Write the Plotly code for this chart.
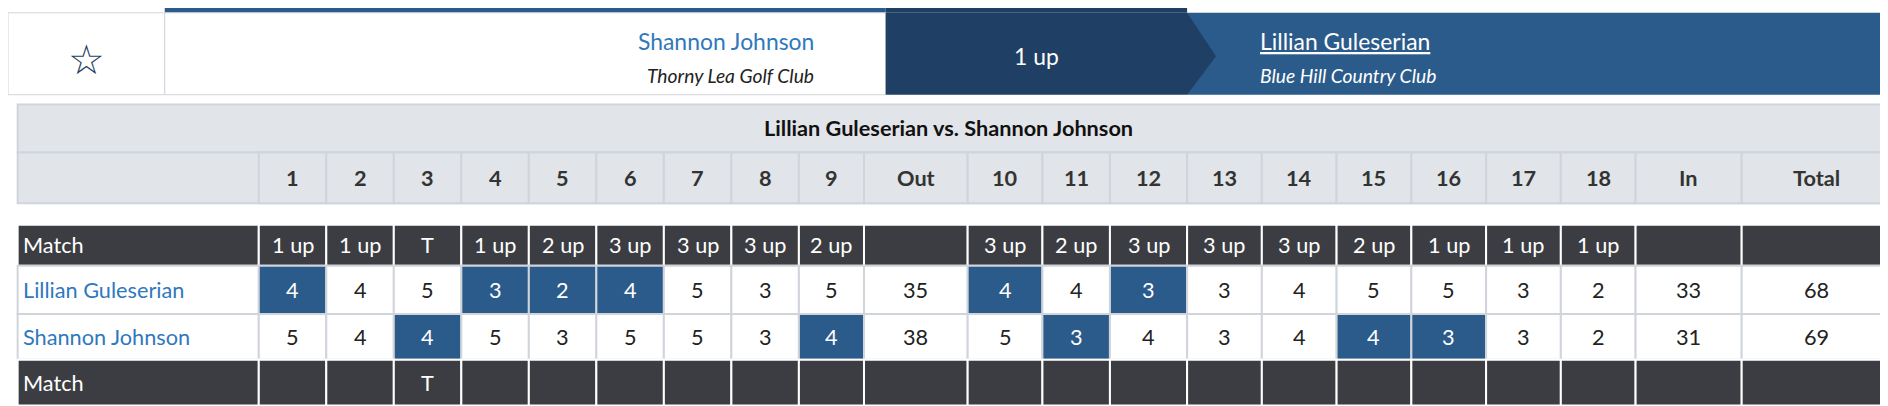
import plotly.graph_objects as go

# scorecard data
columns = ['1', '2', '3', '4', '5', '6', '7', '8', '9', 'Out',
           '10', '11', '12', '13', '14', '15', '16', '17', '18', 'In', 'Total']
match_top = ['1 up', '1 up', 'T', '1 up', '2 up', '3 up', '3 up', '3 up', '2 up', '',
             '3 up', '2 up', '3 up', '3 up', '3 up', '2 up', '1 up', '1 up', '1 up', '', '']
lillian = [4, 4, 5, 3, 2, 4, 5, 3, 5, 35, 4, 4, 3, 3, 4, 5, 5, 3, 2, 33, 68]
shannon = [5, 4, 4, 5, 3, 5, 5, 3, 4, 38, 5, 3, 4, 3, 4, 4, 3, 3, 2, 31, 69]
match_bottom = ['', '', 'T', '', '', '', '', '', '', '',
                '', '', '', '', '', '', '', '', '', '', '']
player_a = 'Lillian Guleserian'
player_b = 'Shannon Johnson'
club_a = 'Blue Hill Country Club'
club_b = 'Thorny Lea Golf Club'
status = '1 up'

# layout in reference units (scaled onto the 1888x406 page)
W, H = 1566, 337
S = 1888 / W
edges = [8, 208, 264, 320, 376, 432, 488, 544, 600, 656, 710, 796,
         858, 914, 978, 1040, 1102, 1164, 1226, 1288, 1350, 1438, 1562]
NAVY, BLUE, DARK = '#1f4064', '#2b5b8a', '#3c3d42'
GRID, HEAD, LINK = '#d0d5db', '#e1e4e8', '#2f78bd'
FONT = 'Lato'

shapes, ann = [], []


def rect(x0, y0, x1, y1, fill, line=None, w=1):
    shapes.append(dict(type='rect', x0=x0, y0=y0, x1=x1, y1=y1, fillcolor=fill,
                       line=dict(color=line or fill, width=w if line else 0), layer='below'))


def text(x, y, s, size, color='#222', anchor='center', bold=False, italic=False):
    if bold:
        s = '<b>' + s + '</b>'
    if italic:
        s = '<i>' + s + '</i>'
    ann.append(dict(x=x, y=y, text=s, showarrow=False, xanchor=anchor, yanchor='middle',
                    font=dict(size=size * S, color=color, family=FONT)))


# top banner
rect(130, 0, 728, 4, BLUE)
rect(728, 0, 978, 4, NAVY)
rect(0, 4, 130, 72, 'white', GRID)
rect(130, 4, 728, 72, 'white', GRID)
rect(978, 4, 1566, 72, BLUE)
shapes.append(dict(type='path', path='M 728,4 L 978,4 L 1002,40 L 978,72 L 728,72 Z',
                   fillcolor=NAVY, line=dict(width=0)))
text(65, 42, '☆', 34, NAVY)
text(670, 27, player_b, 19, LINK, 'right')
text(670, 56, club_b, 16, '#222', 'right', italic=True)
text(853, 40, status, 19, 'white')
text(1037, 27, '<u>' + player_a + '</u>', 19, 'white', 'left')
text(1037, 56, club_a, 16, 'white', 'left', italic=True)
rect(130, 333, 978, 337, BLUE)

# grey header
rect(8, 80, 1562, 120, HEAD, GRID, 2)
rect(8, 120, 1562, 162, HEAD, GRID, 2)
text(780, 100, player_a + ' vs. ' + player_b, 18, '#111', bold=True)
for i, c in enumerate(columns):
    rect(edges[i + 1], 120, edges[i + 2], 162, HEAD, GRID, 2)
    text((edges[i + 1] + edges[i + 2]) / 2, 141, c, 18, '#333', bold=True)

# body rows
rows = [('Match', match_top, 180, 214), (player_a, lillian, 214, 254),
        (player_b, shannon, 254, 292), ('Match', match_bottom, 292, 330)]
for r, (label, vals, y0, y1) in enumerate(rows):
    dark = label == 'Match'
    ym = (y0 + y1) / 2
    rect(edges[0], y0, edges[1], y1, DARK if dark else 'white', 'white' if dark else GRID, 2)
    text(edges[0] + 3, ym, label, 18, 'white' if dark else LINK, 'left')
    for i, v in enumerate(vals):
        x0, x1 = edges[i + 1], edges[i + 2]
        fill, col = ('white', '#222')
        if dark:
            fill, col = DARK, 'white'
        else:
            other = shannon if label == player_a else lillian
            hole = columns[i] not in ('Out', 'In', 'Total')
            if hole and v < other[i]:
                fill, col = BLUE, 'white'
        rect(x0, y0, x1, y1, fill, 'white' if dark else GRID, 2)
        text((x0 + x1) / 2, ym, str(v), 18, col)

fig = go.Figure()
fig.update_layout(width=1888, height=406, margin=dict(l=0, r=0, t=0, b=0),
                  paper_bgcolor='white', plot_bgcolor='white',
                  shapes=shapes, annotations=ann, showlegend=False,
                  xaxis=dict(range=[0, W], visible=False, fixedrange=True),
                  yaxis=dict(range=[H, 0], visible=False, fixedrange=True))
fig.write_html('out.html', config={'displayModeBar': False})
